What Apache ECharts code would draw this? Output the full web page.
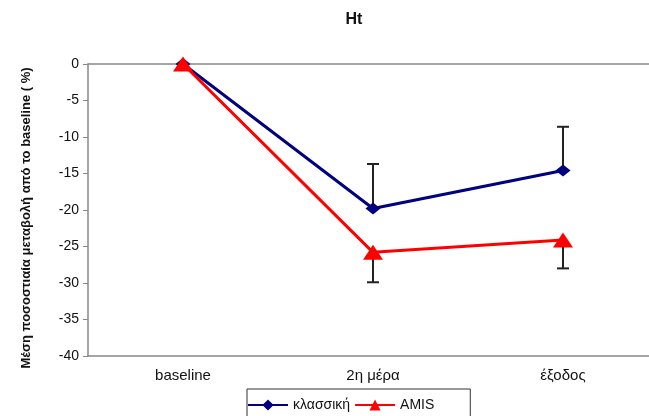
<!DOCTYPE html>
<html>
<head>
<meta charset="utf-8">
<script src="https://cdn.jsdelivr.net/npm/echarts@6/dist/echarts.min.js"></script>
<style>
  html, body { margin: 0; padding: 0; background: #fff; }
  #main { width: 649px; height: 416px; }
</style>
</head>
<body>
<div id="main"></div>
<script>
// data
var categories = ["baseline", "2η μέρα", "έξοδος"];
var classic = [0, -19.8, -14.6];
var amis = [0, -25.8, -24.1];
// error bar ends (blue goes up, red goes down)
var classicErr = [null, -13.7, -8.6];
var amisErr = [null, -29.9, -28.0];
var yTicks = [0, -5, -10, -15, -20, -25, -30, -35, -40];

var chart = echarts.init(document.getElementById("main"));

function errData(vals, ends) {
  var out = [];
  for (var i = 0; i < vals.length; i++) {
    if (ends[i] != null) out.push([i, vals[i], ends[i]]);
  }
  return out;
}

function renderErr(params, api) {
  var p0 = api.coord([api.value(0), api.value(1)]);
  var p1 = api.coord([api.value(0), api.value(2)]);
  var half = 6;
  var st = { stroke: "#222", lineWidth: 2 };
  return {
    type: "group",
    children: [
      { type: "line", shape: { x1: p0[0], y1: p0[1], x2: p1[0], y2: p1[1] }, style: st },
      { type: "line", shape: { x1: p1[0] - half, y1: p1[1], x2: p1[0] + half, y2: p1[1] }, style: st }
    ]
  };
}

chart.setOption({
  animation: false,
  title: {
    text: "Ht",
    left: 349,
    top: 7,
    textAlign: "center",
    textStyle: { fontFamily: "Liberation Sans", fontWeight: "bold", fontSize: 16, color: "#111" }
  },
  legend: {
    left: 247,
    top: 389,
    itemWidth: 40,
    itemHeight: 14,
    itemGap: 4,
    padding: [9, 36, 8, 0],
    borderColor: "#333",
    borderWidth: 1,
    data: ["κλασσική", "AMIS"],
    textStyle: { fontFamily: "Liberation Sans", fontSize: 14, color: "#111" }
  },
  grid: { left: 88, top: 64, height: 292, width: 570, outerBoundsMode: "none" },
  xAxis: [
    {
      type: "category",
      data: categories,
      position: "bottom",
      axisLine: { onZero: false, lineStyle: { color: "#888", width: 1.5 } },
      axisTick: { show: false },
      axisLabel: { margin: 12, fontFamily: "Liberation Sans", fontSize: 15, color: "#111" }
    },
    {
      type: "category",
      data: categories,
      position: "top",
      axisLine: { onZero: false, lineStyle: { color: "#888", width: 1.5 } },
      axisTick: { show: false },
      axisLabel: { show: false }
    }
  ],
  yAxis: {
    type: "value",
    min: yTicks[yTicks.length - 1],
    max: yTicks[0],
    interval: 5,
    name: "Μέση ποσοστιαία μεταβολή από το baseline ( %)",
    nameLocation: "middle",
    nameGap: 55,
    nameTextStyle: { fontFamily: "Liberation Sans", fontWeight: "bold", fontSize: 13, color: "#111", padding: [0, 0, 0, -16] },
    axisLine: { show: true, lineStyle: { color: "#888", width: 1.5 } },
    axisTick: { show: true, length: 5, lineStyle: { color: "#888" } },
    splitLine: { show: false },
    axisLabel: { margin: 9, fontFamily: "Liberation Sans", fontSize: 14, color: "#111" }
  },
  series: [
    {
      type: "custom",
      renderItem: renderErr,
      data: errData(classic, classicErr),
      z: 1,
      silent: true
    },
    {
      type: "custom",
      renderItem: renderErr,
      data: errData(amis, amisErr),
      z: 1,
      silent: true
    },
    {
      name: "κλασσική",
      type: "line",
      data: classic,
      symbol: "diamond",
      symbolSize: [15, 12],
      lineStyle: { color: "#000080", width: 3 },
      itemStyle: { color: "#000080" },
      z: 3
    },
    {
      name: "AMIS",
      type: "line",
      data: amis,
      symbol: "triangle",
      symbolSize: [20, 15],
      lineStyle: { color: "#ff0000", width: 3 },
      itemStyle: { color: "#ff0000" },
      z: 4
    }
  ]
});
</script>
</body>
</html>
